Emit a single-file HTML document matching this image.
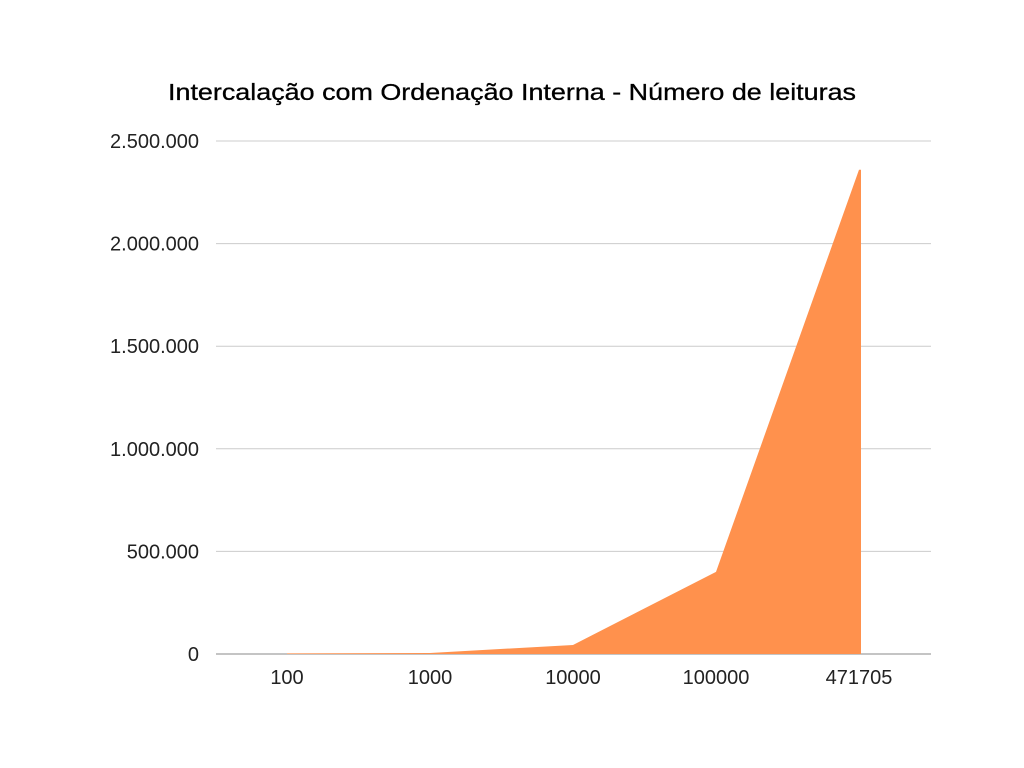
<!DOCTYPE html>
<html><head><meta charset="utf-8"><style>
body{margin:0;background:#fff;}
svg{display:block;font-family:"Liberation Sans",sans-serif;}
</style></head><body>
<svg width="1024" height="768">
<rect width="1024" height="768" fill="#fff"/>
<text x="168" y="100" textLength="688" lengthAdjust="spacingAndGlyphs" font-size="23" fill="#000" stroke="#000" stroke-width="0.3">Intercalação com Ordenação Interna - Número de leituras</text>
<g id="grid"></g><g id="area"></g><g id="xl"></g>
</svg>
<script>
const categories=["100","1000","10000","100000","471705"];
const values=[3000,5000,44000,400000,2360000];
const yTicks=[0,500000,1000000,1500000,2000000,2500000];
const yTickLabels=["0","500.000","1.000.000","1.500.000","2.000.000","2.500.000"];
const NS="http://www.w3.org/2000/svg";
const L=216,R=931,Y0=654,Y1=141,YMAX=2500000;
const y=v=>Y0-(v/YMAX)*(Y0-Y1);
const step=(R-L)/categories.length;
const x=i=>L+step*(i+0.5)-0.5;
function mk(t,a,p){const e=document.createElementNS(NS,t);for(const k in a)e.setAttribute(k,a[k]);p.appendChild(e);return e;}
const g=document.getElementById('grid');
yTicks.forEach((t,i)=>{
 const ln=mk('line',{x1:L,x2:R,y1:y(t),y2:y(t),stroke:i==0?'#888':'#ccc','stroke-width':1},g);
 
 
 const tx=mk('text',{x:199,y:y(t)+7,'text-anchor':'end','font-size':20,fill:'#222'},g);
 tx.textContent=yTickLabels[i];
 
 
});
const a=document.getElementById('area');
let d='M'+x(0)+','+Y0;
values.forEach((v,i)=>{d+=' L'+x(i)+','+y(v);});
d+=' L'+(x(values.length-1)+2)+','+y(values[values.length-1])+' L'+(x(values.length-1)+2)+','+Y0+' Z';
const p=mk('path',{d:d,fill:'#ff914d'},a);


const xl=document.getElementById('xl');
categories.forEach((c,i)=>{
 const t=mk('text',{x:x(i),y:684,'text-anchor':'middle','font-size':20,fill:'#222'},xl);
 t.textContent=c;
 
 
});
</script>
</body></html>
